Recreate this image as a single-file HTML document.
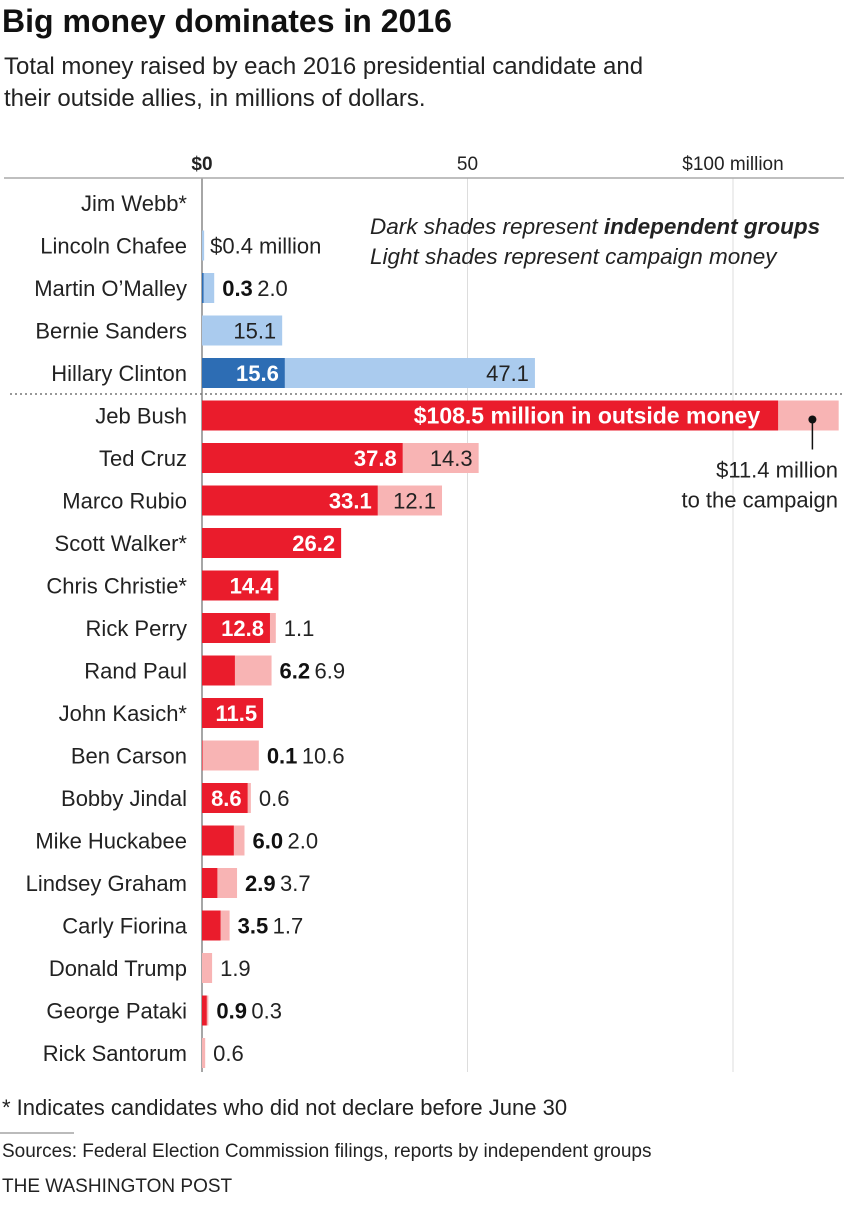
<!DOCTYPE html>
<html><head><meta charset="utf-8"><style>
body{margin:0;background:#fff;width:844px;height:1200px;overflow:hidden;font-family:"Liberation Sans",sans-serif;color:#222}
svg text{font-family:"Liberation Sans",sans-serif}
</style></head><body>
<svg id="c" width="844" height="1200">
<text x="2" y="32" font-size="32" font-weight="bold" fill="#111">Big money dominates in 2016</text>
<text x="4" y="74" font-size="24" fill="#222">Total money raised by each 2016 presidential candidate and</text>
<text x="4" y="106" font-size="24" fill="#222">their outside allies, in millions of dollars.</text>
<g id="grid"></g><g id="bars"></g>
<text x="370" y="234" font-size="22.5" font-style="italic" fill="#222">Dark shades represent <tspan font-weight="bold">independent groups</tspan></text>
<text x="370" y="264" font-size="22.5" font-style="italic" fill="#222">Light shades represent campaign money</text>
<text x="2" y="1115" font-size="22" fill="#222">* Indicates candidates who did not declare before June 30</text>
<line x1="0" y1="1133" x2="74" y2="1133" stroke="#bbb" stroke-width="2"/>
<text x="2" y="1157" font-size="19" fill="#222">Sources: Federal Election Commission filings, reports by independent groups</text>
<text x="2" y="1192" font-size="19" fill="#222">THE WASHINGTON POST</text>
</svg>
<script>
const candidates=["Jim Webb*","Lincoln Chafee","Martin O’Malley","Bernie Sanders","Hillary Clinton","Jeb Bush","Ted Cruz","Marco Rubio","Scott Walker*","Chris Christie*","Rick Perry","Rand Paul","John Kasich*","Ben Carson","Bobby Jindal","Mike Huckabee","Lindsey Graham","Carly Fiorina","Donald Trump","George Pataki","Rick Santorum"];
const outsideMoney=[0,0,0.3,0,15.6,108.5,37.8,33.1,26.2,14.4,12.8,6.2,11.5,0.1,8.6,6.0,2.9,3.5,0,0.9,0];
const campaignMoney=[0,0.4,2.0,15.1,47.1,11.4,14.3,12.1,0,0,1.1,6.9,0,10.6,0.6,2.0,3.7,1.7,1.9,0.3,0.6];
const party=["D","D","D","D","D","R","R","R","R","R","R","R","R","R","R","R","R","R","R","R","R"];
const ticks=[0,50,100];
const tickLabels=["$0","50","$100 million"];
const NS="http://www.w3.org/2000/svg";
const x=v=>202+v*5.31;
const rowY=i=>203+i*42.5;
const BH=30;
function mk(p,t,a){const e=document.createElementNS(NS,t);for(const k in a)e.setAttribute(k,a[k]);p.appendChild(e);return e;}
const grid=document.getElementById('grid'),bars=document.getElementById('bars');
ticks.forEach((t,i)=>{
 const l=mk(grid,'line',{x1:x(t),x2:x(t),y1:178,y2:1072,stroke:i?'#ddd':'#888','stroke-width':i?1:1.5});
 
 
 const tx=mk(grid,'text',{x:x(t),y:170,'font-size':19,'text-anchor':'middle','font-weight':i?'normal':'bold',fill:'#222'});
 tx.textContent=tickLabels[i];
 
 
});
const ax=mk(grid,'line',{x1:4,x2:844,y1:178,y2:178,stroke:'#aaa','stroke-width':1.5});


const sep=mk(grid,'line',{x1:10,x2:844,y1:394,y2:394,stroke:'#777','stroke-width':1.5,'stroke-dasharray':'2,3'});


candidates.forEach((c,i)=>{
 const cy=rowY(i),d=outsideMoney[i],l=campaignMoney[i],R=party[i]==='R';
 const dc=R?'#ea1c2c':'#2d6db4',lc=R?'#f8b4b4':'#aacbee';
 const nm=mk(bars,'text',{x:187,y:cy+8,'font-size':22,'text-anchor':'end',fill:'#222'});
 nm.textContent=c;
 
 
 if(l>0){const r=mk(bars,'rect',{x:x(d),y:cy-BH/2,width:x(d+l)-x(d),height:BH,fill:lc});
  
  }
 if(d>0){const r=mk(bars,'rect',{x:x(0),y:cy-BH/2,width:x(d)-x(0),height:BH,fill:dc});
  
  }
 if(d===0&&l===0)return;
 const dw=x(d)-x(0),lw=x(d+l)-x(d);
 let cur=x(d+l)+8;
 if(i===1){const t=mk(bars,'text',{x:cur-2,y:cy+8,'font-size':22,fill:'#222'});t.textContent='$'+l.toFixed(1)+' million';
  
  return;}
 if(i===5){const t=mk(bars,'text',{x:x(d)-18,y:cy+8,'font-size':23,'font-weight':'bold','text-anchor':'end',fill:'#fff'});
  t.textContent='$'+d.toFixed(1)+' million in outside money';
  
  
  const px=(x(d)+x(d+l))/2+4;
  mk(bars,'circle',{r:4,cx:px,cy:cy+4,fill:'#111'});
  mk(bars,'line',{x1:px,x2:px,y1:cy+4,y2:cy+34,stroke:'#111','stroke-width':1.5});
  const a=mk(bars,'text',{x:838,y:cy+62,'font-size':22,'text-anchor':'end',fill:'#222'});a.textContent='$'+l.toFixed(1)+' million';
  
  
  const b=mk(bars,'text',{x:838,y:cy+92,'font-size':22,'text-anchor':'end',fill:'#222'});b.textContent='to the campaign';
  
  
  return;}
 let darkIn=dw>=40;
 if(d>0){
  if(darkIn){const t=mk(bars,'text',{x:x(d)-6,y:cy+8,'font-size':22,'font-weight':'bold','text-anchor':'end',fill:'#fff'});t.textContent=d.toFixed(1);
   
   }
  else{const t=mk(bars,'text',{x:cur,y:cy+8,'font-size':22,'font-weight':'bold',fill:'#111'});t.textContent=d.toFixed(1);
   
   cur+=d.toFixed(1).length*10+8;}
 }
 if(l>0){
  if(lw>=55&&(darkIn||d===0)){const t=mk(bars,'text',{x:x(d+l)-6,y:cy+8,'font-size':22,'text-anchor':'end',fill:'#222'});t.textContent=l.toFixed(1);
   
   }
  else{const t=mk(bars,'text',{x:cur-(d>0&&!darkIn?3:0),y:cy+8,'font-size':22,fill:'#222'});t.textContent=l.toFixed(1);
   
   }
 }
});
</script>
</body></html>
